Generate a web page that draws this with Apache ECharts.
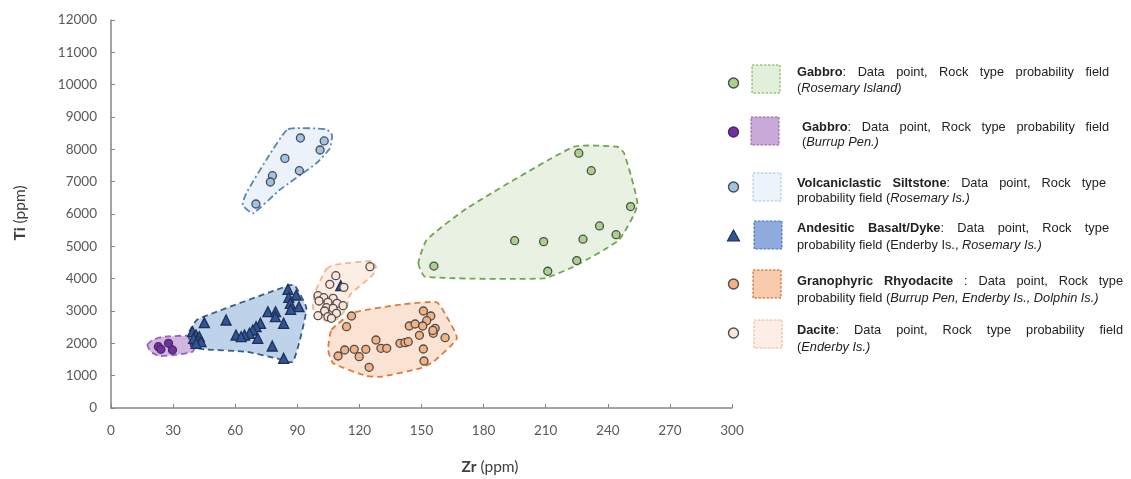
<!DOCTYPE html>
<html><head><meta charset="utf-8">
<script src="https://cdn.jsdelivr.net/npm/echarts@6/dist/echarts.min.js"></script>
<style>html,body{margin:0;padding:0;background:#fff}#c{width:1131px;height:479px}</style>
</head><body><div id="c"></div>
<script>
// ---------- DATA ----------
const xMin = 0, xMax = 300, xInterval = 30;
const yMin = 0, yMax = 12000, yInterval = 1000;
const xTitle = ['Zr', ' (ppm)'];
const yTitle = ['Ti', ' (ppm)'];

const gabbroRosemary = [[226,7880],[232,7340],[251,6230],[236,5630],[244,5360],[195,5175],[209,5145],[228,5220],[225,4560],[211,4230],[156,4390]];
const gabbroRosemaryField = [[148.5,4480],[151.7,4060],[209,4010],[225,4420],[245.4,5200],[254.3,6280],[247.9,7880],[244.6,8080],[223.6,8080],[172,6180],[152.5,5200]];

const gabbroBurrup = [[22.9,1896],[24.1,1815],[27.8,2001],[29.7,1794],[40.2,1980]];
const gabbroBurrupField = [[17.6,1950],[20,2100],[24.9,2200],[38.6,2230],[41.1,2000],[39.4,1740],[31.4,1640],[23.3,1610],[19.2,1740]];

const siltstone = [[91.5,8350],[103,8260],[101,7980],[84,7720],[91,7340],[78,7185],[77,6990],[70,6310]];
const siltstoneField = [[85.5,8620],[104.1,8620],[106.8,8440],[105.7,8030],[99.2,7570],[81.4,6740],[68.5,6020],[63.6,6280],[65.3,6640],[75,7670]];

const andesite = [[85.5,3671],[89.5,3495],[85.9,3424],[86.6,3238],[90.8,3133],[86.8,3053],[75.8,2979],[79.5,2979],[79.4,2824],[83.4,2620],
  [55.6,2722],[45.1,2638],[72.2,2620],[70.1,2515],[68.5,2413],[66.9,2311],[64.5,2258],[60.4,2258],[70.9,2156],[62.9,2205],
  [77.9,1918],[83.4,1537],[39.4,2360],[41.1,2258],[42.7,2205],[41.8,2103],[43.5,2051],[39.9,2156],[41.1,2001],[111,3783]];
const andesiteField = [[37.8,2360],[41.8,2740],[86.3,3800],[88.7,3800],[94.4,3080],[87.9,1430],[79.8,1540],[65.3,1740],[45.1,1815],[39.4,1880],[37.8,2100]];

const rhyodacite = [[150.9,3000],[154.5,2846],[152.5,2700],[144.1,2536],[146.9,2598],[150.6,2536],[156.6,2465],[155.7,2311],[149,2249],[161.4,2175],
  [116.2,2846],[113.8,2515],[128,2103],[139.6,2001],[142,2020],[143.6,2051],[130.4,1846],[133.2,1846],[123.1,1815],[117.5,1815],
  [112.9,1794],[109.7,1608],[119.9,1588],[150.9,1825],[151.2,1454],[124.7,1258],[155.5,2400]];
const rhyodaciteField = [[106.5,2413],[117,2948],[141.2,3207],[157.4,3269],[162.2,2824],[167.1,2156],[155.8,1432],[149.3,1228],[130.7,968],[123.5,990],[107.3,1383],[104.9,1794]];

const dacite = [[125.1,4370],[108.6,4092],[105.7,3826],[100,3474],[102.8,3412],[107.3,3393],[100.5,3310],[104.8,3269],[109.2,3238],
  [112.1,3164],[104.1,3102],[107.3,3084],[103.2,3000],[108.9,2929],[100,2855],[104.8,2824],[106.5,2774],[112.5,3733]];
const daciteField = [[104.1,4299],[107.3,4423],[125.9,4547],[128,4370],[126.4,4114],[115.4,3495],[113.8,3084],[109.7,2774],[106.5,2670],[100.8,2774],[97.6,3084],[98.4,3548],[102.4,4114]];

// legend texts: **bold**, _italic_
const legendLine1 = [
  '**Gabbro**: Data point, Rock type probability field',
  '**Gabbro**: Data point, Rock type probability field',
  '**Volcaniclastic Siltstone**: Data point, Rock type',
  '**Andesitic Basalt/Dyke**: Data point, Rock type',
  '**Granophyric Rhyodacite** : Data point, Rock type',
  '**Dacite**: Data point, Rock type probability field'
];
const legendLine2 = [
  '(_Rosemary Island)_',
  '(_Burrup Pen.)_',
  'probability field (_Rosemary Is.)_',
  'probability field (Enderby Is., _Rosemary Is.)_',
  'probability field (_Burrup Pen, Enderby Is., Dolphin Is.)_',
  '(_Enderby Is.)_'
];

// ---------- STYLE / LAYOUT ----------
const FONT = '"Liberation Sans", Arial, sans-serif';
const AXFONT = 'Lato, "Open Sans", sans-serif';
const styles = [
  {marker:'circle', color:'#a9d18e', border:'#4d4d4d', fieldFill:'#e9f2e2', fieldStroke:'#6fa64e', dash:[6,4], boxFill:'#e2efda', boxStroke:'#70ad47'},
  {marker:'circle', color:'#7030a0', border:'#4d2a66', fieldFill:'#d2b6df', fieldStroke:'#9b62bb', dash:[6,4], boxFill:'#c9a9d8', boxStroke:'#8e5ea2'},
  {marker:'circle', color:'#9dc3e6', border:'#4d4d4d', fieldFill:'#ebf2fa', fieldStroke:'#5a84b5', dash:[7,3,2,3], boxFill:'#edf3fb', boxStroke:'#9dc3e6'},
  {marker:'triangle', color:'#2f5597', border:'#1f2f55', fieldFill:'#bed3ea', fieldStroke:'#3b5a8a', dash:[6,4], boxFill:'#8faadc', boxStroke:'#4472c4'},
  {marker:'circle', color:'#f4b183', border:'#4d4d4d', fieldFill:'#fbe3d4', fieldStroke:'#e07a3a', dash:[6,4], boxFill:'#f8cbad', boxStroke:'#c55a11'},
  {marker:'circle', color:'#fbe5d6', border:'#4d4d4d', fieldFill:'#fdeee4', fieldStroke:'#f2b68e', dash:[6,4], boxFill:'#fdeee5', boxStroke:'#f4b183'}
];
const pointSets = [gabbroRosemary, gabbroBurrup, siltstone, andesite, rhyodacite, dacite];
const fieldSets = [gabbroRosemaryField, gabbroBurrupField, siltstoneField, andesiteField, rhyodaciteField, daciteField];
const seriesNames = ['Gabbro (Rosemary Island)','Gabbro (Burrup Pen.)','Volcaniclastic Siltstone','Andesitic Basalt/Dyke','Granophyric Rhyodacite','Dacite'];

const legendLayout = [
  {l1:72.5, l2:88.5, my:83, by:65, bx:752, tx:797, tx1:1109},
  {l1:127.5, l2:142.5, my:132, by:117, bx:751, tx:802, tx1:1109},
  {l1:183, l2:198.5, my:187, by:173, bx:753, tx:797, tx1:1106},
  {l1:228.5, l2:245, my:236, by:221, bx:754, tx:797, tx1:1109},
  {l1:281, l2:298, my:284, by:270, bx:753, tx:797, tx1:1123},
  {l1:330.5, l2:347, my:333, by:320, bx:754, tx:797, tx1:1123}
];
const LFS = 12.8;

const canvas = document.createElement('canvas');
const ctx = canvas.getContext('2d');
function fontOf(st){ return (st==='b'?'bold ':'') + (st==='i'?'italic ':'') + LFS + 'px ' + FONT; }
function parseRuns(s){
  const re = /\*\*(.+?)\*\*|_(.+?)_|([^*_]+)/g; const runs=[]; let m;
  while((m=re.exec(s))){ if(m[1]) runs.push({t:m[1],s:'b'}); else if(m[2]) runs.push({t:m[2],s:'i'}); else runs.push({t:m[3],s:'n'}); }
  return runs;
}
function lineElements(s, x0, x1, y, justify){
  const runs = parseRuns(s); const words=[[]];
  runs.forEach(r=>{ const parts=r.t.split(' '); parts.forEach((p,j)=>{ if(j>0) words.push([]); if(p!=='') words[words.length-1].push({t:p,s:r.s}); }); });
  const ws = words.filter(w=>w.length);
  ws.forEach(w=>{ w.width=0; w.forEach(r=>{ ctx.font=fontOf(r.s); r.w=ctx.measureText(r.t).width; w.width+=r.w; }); });
  const total = ws.reduce((a,w)=>a+w.width,0);
  ctx.font = fontOf('n'); const sp = ctx.measureText(' ').width;
  const gap = justify && ws.length>1 ? (x1-x0-total)/(ws.length-1) : sp;
  const els=[]; let x=x0;
  ws.forEach(w=>{ w.forEach(r=>{ els.push({type:'text', x:x, y:y, silent:true, style:{text:r.t, fontSize:LFS, fontFamily:FONT, fontWeight:r.s==='b'?'bold':'normal', fontStyle:r.s==='i'?'italic':'normal', fill:'#222', textVerticalAlign:'middle', verticalAlign:'middle'}}); x+=r.w; }); x+=gap; });
  return els;
}

const graphics = [];
legendLayout.forEach((L,i)=>{
  const st = styles[i];
  if(st.marker==='circle') graphics.push({type:'circle', shape:{cx:733.5, cy:L.my, r:5}, style:{fill:st.color, stroke:st.border, lineWidth:1.4}});
  else graphics.push({type:'polygon', shape:{points:[[733.5,L.my-6],[739.5,L.my+5],[727.5,L.my+5]]}, style:{fill:st.color, stroke:st.border, lineWidth:1.2}});
  graphics.push({type:'rect', shape:{x:L.bx, y:L.by, width:28, height:28}, style:{fill:st.boxFill, stroke:st.boxStroke, lineWidth:1, lineDash:[2.5,1.5]}});
  lineElements(legendLine1[i], L.tx, L.tx1, L.l1, true).forEach(e=>graphics.push(e));
  lineElements(legendLine2[i], L.tx, L.tx1, L.l2, false).forEach(e=>graphics.push(e));
});
// axis titles
graphics.push({type:'text', x:490, y:467, style:{text:'{b|'+xTitle[0]+'}'+xTitle[1], fill:'#404040', fontSize:15.5, fontFamily:AXFONT, textAlign:'center', textVerticalAlign:'middle', verticalAlign:'middle', align:'center', rich:{b:{fontWeight:'bold', fontSize:15.5, fontFamily:AXFONT, fill:'#404040'}}}});
graphics.push({type:'text', x:20, y:213, rotation:Math.PI/2, style:{text:'{b|'+yTitle[0]+'}'+yTitle[1], fill:'#404040', fontSize:15.5, fontFamily:AXFONT, textAlign:'center', textVerticalAlign:'middle', verticalAlign:'middle', align:'center', rich:{b:{fontWeight:'bold', fontSize:15.5, fontFamily:AXFONT, fill:'#404040'}}}});

const series = [];
fieldSets.forEach((pts,i)=>{
  const st = styles[i];
  series.push({type:'custom', name:seriesNames[i]+' field', data:pts, silent:true, z:1, encode:{x:0,y:1},
    renderItem:(params, api)=>{
      if(params.dataIndex!==0) return null;
      const points = pts.map(p=>api.coord(p));
      return {type:'polygon', shape:{points, smooth:0.15}, style:{fill:st.fieldFill, stroke:st.fieldStroke, lineWidth:1.8, lineDash:st.dash}};
    }});
});
pointSets.forEach((pts,i)=>{
  const st = styles[i];
  series.push({type:'scatter', name:seriesNames[i], data:pts, z:3, symbol:st.marker, symbolSize: st.marker==='triangle'?10:8,
    itemStyle:{color:st.color, borderColor:st.border, borderWidth:1.3, opacity:1}});
});

const chart = echarts.init(document.getElementById('c'), null, {renderer:'canvas'});
chart.setOption({
  animation:false,
  backgroundColor:'#fff',
  grid:{left:111, right:399, top:20, bottom:71, containLabel:false},
  xAxis:{type:'value', min:xMin, max:xMax, interval:xInterval,
    axisLine:{show:true, onZero:false, lineStyle:{color:'#868686', width:1.5}},
    axisTick:{show:true, inside:true, length:4, lineStyle:{color:'#868686'}},
    axisLabel:{color:'#595959', fontSize:13.5, fontFamily:AXFONT, margin:16, formatter:v=>String(v)},
    splitLine:{show:false}},
  yAxis:{type:'value', min:yMin, max:yMax, interval:yInterval,
    axisLine:{show:true, onZero:false, lineStyle:{color:'#868686', width:1.5}},
    axisTick:{show:true, inside:true, length:4, lineStyle:{color:'#868686'}},
    axisLabel:{color:'#595959', fontSize:13.5, fontFamily:AXFONT, margin:14, formatter:v=>String(v)},
    splitLine:{show:false}},
  series,
  graphic: graphics
});
</script></body></html>
